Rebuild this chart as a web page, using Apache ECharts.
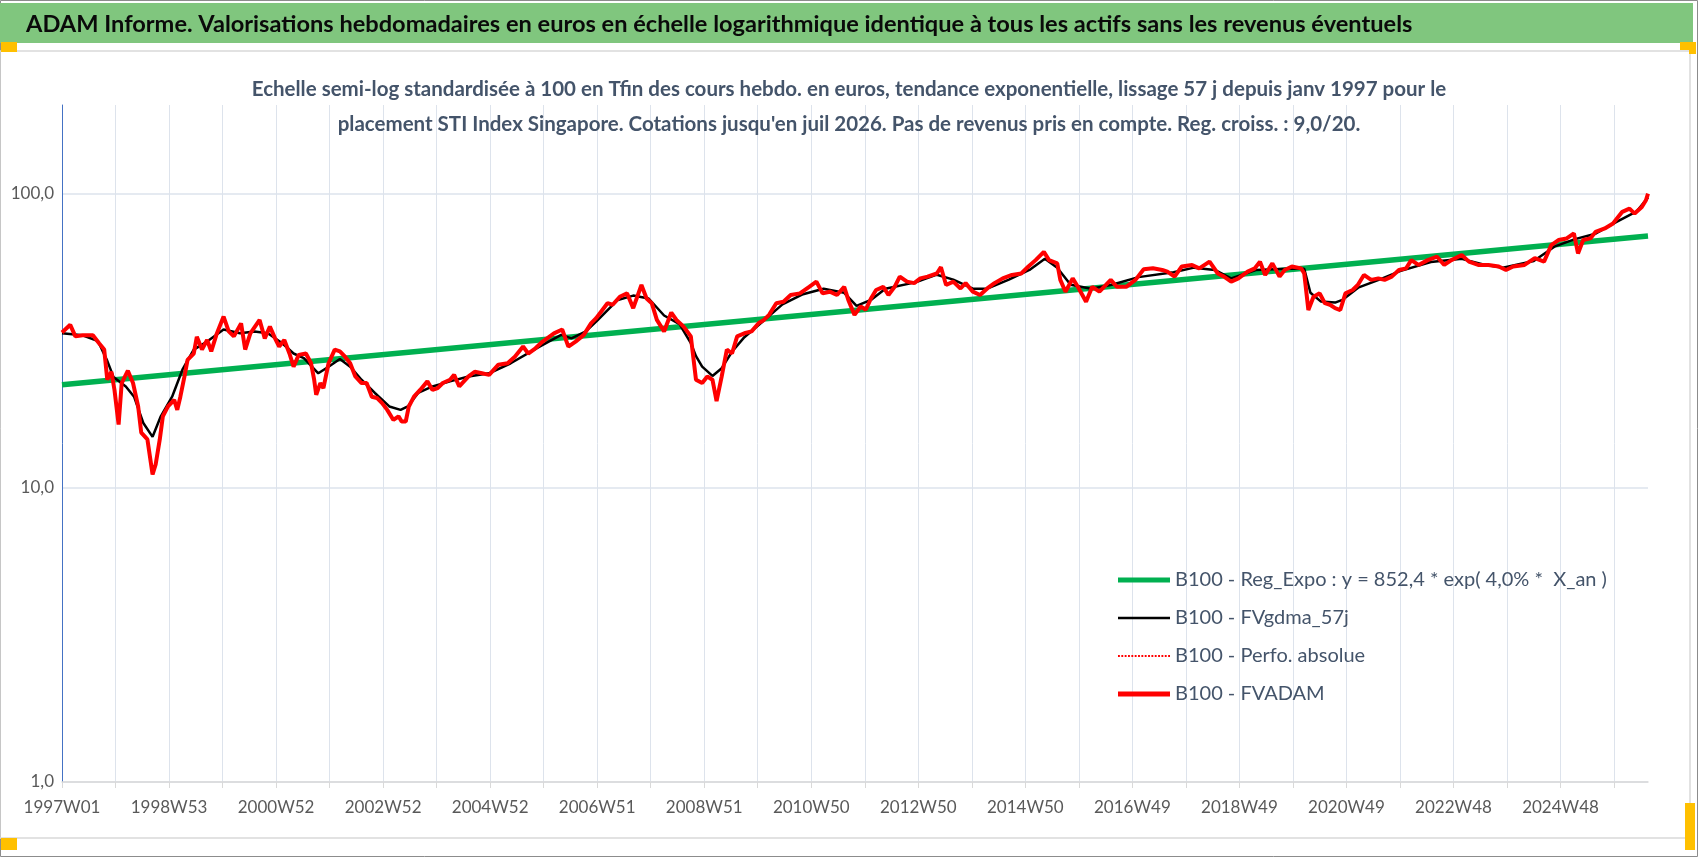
<!DOCTYPE html>
<html>
<head>
<meta charset="utf-8">
<title>ADAM Informe - STI Index Singapore</title>
<script src="https://cdn.jsdelivr.net/npm/echarts@6.0.0/dist/echarts.min.js"></script>
<style>
html,body{margin:0;padding:0;background:#fff;}
#chart{width:1698px;height:857px;}
</style>
</head>
<body>
<div id="chart"></div>
<script>
// weekly categories : ISO weeks from 1997W01 up to juil 2026
let firstMonday = Date.UTC(1996, 11, 30);
let weekCount = 1542;

// series values, [week index, value] (base 100 at the end)
let regExpo = [[0, 22.4], [1541, 71.8]];

let fvgdma = [
  [0,33.5],[20,33.0],[35,31.5],[44,27.0],[50,23.8],[62,22.1],[70,20.4],[79,16.6],[88,14.9],[96,17.5],
  [107,20.4],[117,25.2],[128,29.5],[141,31.4],[157,34.5],[173,33.5],[187,34.0],[200,33.5],[214,31.0],[225,28.6],
  [235,27.6],[249,24.5],[259,25.8],[270,27.4],[280,25.8],[291,23.3],[304,21.0],[318,18.9],[329,18.4],[336,18.9],
  [346,21.0],[360,22.1],[377,23.0],[395,23.9],[415,24.5],[436,26.5],[464,30.2],[485,33.1],[495,32.2],[509,34.0],
  [520,37.0],[540,43.5],[555,45.0],[570,44.0],[585,38.5],[600,36.0],[611,31.0],[616,28.0],[622,25.8],[632,24.0],
  [641,25.5],[651,29.0],[663,32.5],[680,36.5],[700,42.0],[720,45.5],[740,47.5],[760,46.0],[772,41.5],[786,43.5],
  [800,47.5],[830,50.0],[850,53.0],[866,51.0],[885,47.5],[899,47.5],[920,51.0],[940,55.0],[955,60.0],[967,56.0],
  [980,49.0],[1000,47.5],[1020,49.0],[1046,52.0],[1080,54.0],[1100,56.0],[1120,55.0],[1136,51.5],[1160,55.0],[1190,55.5],
  [1207,55.5],[1213,46.0],[1223,43.0],[1237,42.6],[1244,43.5],[1260,48.0],[1280,51.0],[1300,54.5],[1330,58.5],[1360,60.0],
  [1380,57.5],[1400,56.0],[1430,59.0],[1450,66.0],[1470,70.0],[1490,73.0],[1510,80.0],[1530,87.0],[1541,97.0]
];

let fvadam = [
  [0,33.7],[8,35.8],[13,32.7],[20,33.0],[30,33.0],[36,31.0],[41,29.5],[44,23.3],[48,24.8],[51,21.5],
  [55,16.4],[58,22.7],[64,25.0],[69,22.7],[74,18.9],[77,15.4],[83,14.6],[88,11.1],[91,12.0],[95,14.6],
  [98,17.5],[103,18.9],[109,19.9],[112,18.4],[115,20.4],[119,23.9],[122,27.2],[128,28.6],[131,32.6],[136,29.5],
  [141,31.8],[145,29.1],[150,33.1],[157,38.2],[162,34.0],[167,32.7],[174,36.2],[178,29.5],[183,33.5],[192,37.2],
  [197,32.2],[202,35.3],[207,32.2],[211,30.2],[216,31.8],[221,28.6],[225,25.8],[230,28.3],[237,28.6],[242,26.5],
  [245,23.3],[247,20.7],[251,22.7],[254,21.8],[259,26.5],[265,29.5],[270,29.1],[275,27.9],[280,26.5],[285,23.9],
  [291,22.7],[296,22.7],[301,20.4],[306,20.2],[311,19.4],[316,18.4],[322,17.0],[327,17.5],[330,16.8],[334,16.8],
  [337,18.9],[342,20.4],[348,21.5],[355,23.0],[360,21.5],[365,21.8],[370,22.7],[377,23.3],[381,24.2],[386,22.1],
  [395,23.9],[401,24.8],[408,24.5],[415,24.2],[424,26.2],[433,26.5],[440,27.9],[448,30.2],[453,28.6],[460,29.8],
  [467,31.4],[478,33.5],[486,34.5],[492,30.2],[499,31.4],[507,33.1],[514,36.2],[519,37.7],[530,42.4],[535,41.9],
  [542,44.6],[549,45.8],[555,40.8],[563,48.9],[568,44.0],[573,42.4],[578,37.2],[585,34.0],[592,39.4],[597,37.2],
  [604,35.3],[611,32.7],[616,23.3],[622,22.7],[627,23.9],[632,23.3],[636,19.7],[641,23.9],[646,29.5],[651,28.6],
  [656,32.7],[663,33.5],[670,34.0],[677,36.3],[682,37.2],[687,38.7],[694,42.4],[701,42.9],[708,45.2],[717,45.8],
  [726,48.2],[733,50.2],[739,45.8],[746,46.4],[753,45.2],[760,48.2],[764,43.5],[770,38.7],[776,41.3],[781,40.3],
  [786,44.0],[791,47.0],[798,48.2],[803,45.2],[809,48.2],[814,52.2],[821,50.2],[828,49.6],[834,51.5],[841,52.2],
  [850,53.5],[854,56.2],[859,48.9],[866,50.2],[873,47.6],[878,49.6],[885,46.4],[892,45.2],[899,47.6],[906,49.6],
  [914,51.5],[923,52.9],[932,53.5],[939,56.5],[946,59.4],[954,63.4],[959,59.4],[967,57.9],[970,50.9],[975,46.4],
  [982,51.5],[987,48.2],[995,42.9],[1001,48.2],[1008,46.4],[1019,50.9],[1025,48.2],[1034,48.2],[1043,50.9],[1051,55.3],
  [1060,55.7],[1069,55.0],[1074,54.3],[1081,52.2],[1088,56.5],[1098,57.2],[1105,55.7],[1115,58.7],[1123,53.5],[1129,52.2],
  [1136,50.2],[1143,51.5],[1152,54.3],[1159,55.7],[1164,58.7],[1169,52.9],[1176,57.9],[1183,52.2],[1188,55.0],[1195,56.5],
  [1204,55.7],[1207,53.5],[1211,40.2],[1216,44.6],[1222,45.8],[1227,42.4],[1232,41.9],[1237,40.8],[1242,40.2],[1247,45.8],
  [1254,47.0],[1259,48.9],[1265,52.9],[1272,50.9],[1279,51.5],[1285,50.9],[1292,52.2],[1299,55.0],[1306,55.7],[1311,59.4],
  [1318,57.2],[1327,59.4],[1336,61.0],[1343,57.2],[1350,59.4],[1360,61.8],[1367,58.7],[1376,57.2],[1386,57.2],[1396,56.5],
  [1403,55.0],[1410,56.5],[1421,57.2],[1431,60.3],[1440,58.7],[1447,66.8],[1454,69.5],[1462,70.4],[1469,73.2],[1473,62.6],
  [1478,69.5],[1485,70.4],[1490,74.1],[1499,76.1],[1507,79.1],[1516,86.7],[1523,88.9],[1528,85.5],[1535,90.0],[1539,94.9],
  [1541,100]
];

let yTicks = [1, 10, 100];
let legendNames = [
  'B100 - Reg_Expo : y = 852,4 * exp( 4,0% *  X_an )',
  'B100 - FVgdma_57j',
  'B100 - Perfo. absolue',
  'B100 - FVADAM'
];
let titleText = 'ADAM Informe. Valorisations hebdomadaires en euros en échelle logarithmique identique à tous les actifs sans les revenus éventuels';
let subLine1 = 'Echelle semi-log standardisée à 100 en Tfin des cours hebdo. en euros, tendance exponentielle, lissage 57 j depuis janv 1997 pour le';
let subLine2 = "placement STI Index Singapore. Cotations jusqu'en juil 2026. Pas de revenus pris en compte. Reg. croiss. : 9,0/20.";

let isoWeekLabel = function (i) {
  let d = new Date(firstMonday + i * 7 * 86400000);
  let thu = new Date(d.getTime() + 3 * 86400000);
  let y = thu.getUTCFullYear();
  let doy = Math.floor((thu.getTime() - Date.UTC(y, 0, 1)) / 86400000);
  let w = Math.floor(doy / 7) + 1;
  return y + 'W' + (w < 10 ? '0' + w : w);
};
let weeks = [];
for (let i = 0; i < weekCount; i++) {
  weeks.push(isoWeekLabel(i));
}

// legend keys drawn as plain strokes (52x6 box), no marker
let box = 'path://M0,0M52,6';
let dots = '';
for (let x = 0; x < 52; x += 3.4) {
  dots += 'M' + x + ',2.1h1.9v1.8h-1.9z';
}
let legendIcons = [
  box + 'M0,0.4H52V5.6H0Z',
  box + 'M0,1.7H52V4.3H0Z',
  box + dots,
  box + 'M0,0.6H52V5.4H0Z'
];

let font = 'Lato, "Open Sans", sans-serif';
let myChart = echarts.init(document.getElementById('chart'));

let option = {
  animation: false,
  backgroundColor: '#fff',
  textStyle: {fontFamily: font},
  grid: {left: 62, right: 50, top: 105, bottom: 75, outerBoundsMode: 'none', containLabel: false},
  legend: {
    orient: 'vertical',
    left: 1113,
    top: 565,
    itemWidth: 52,
    itemHeight: 6,
    itemGap: 18,
    selectedMode: false,
    itemStyle: {borderWidth: 0},
    textStyle: {fontFamily: font, fontSize: 20, color: '#44546A'},
    data: legendNames.map(function (n, i) { return {name: n, icon: legendIcons[i]}; })
  },
  xAxis: {
    type: 'category',
    data: weeks,
    boundaryGap: false,
    axisLine: {lineStyle: {color: '#D9D9D9', width: 1.5}},
    axisTick: {interval: 51, length: 6, lineStyle: {color: '#D9D9D9'}},
    axisLabel: {interval: 103, color: '#595959', fontSize: 17, margin: 17, fontFamily: font},
    splitLine: {show: true, interval: 51, lineStyle: {color: '#DDE3EC', width: 1}}
  },
  yAxis: {
    type: 'log',
    logBase: 10,
    min: 1,
    max: 200,
    axisLine: {show: true, lineStyle: {color: '#4472C4', width: 1}},
    axisTick: {show: false},
    axisLabel: {
      color: '#595959', fontSize: 17, margin: 8, fontFamily: font,
      formatter: function (v) {
        return yTicks.indexOf(Math.round(v * 1000) / 1000) > -1 ? v.toFixed(1).replace('.', ',') : '';
      }
    },
    splitLine: {show: true, showMaxLine: false, lineStyle: {color: '#DDE3EC', width: 1.5}}
  },
  graphic: [
    {type: 'rect', shape: {x: 0.5, y: 0.5, width: 1697, height: 856}, style: {fill: 'none', stroke: '#8C8C8C', lineWidth: 1}, z: 0},
    {type: 'rect', shape: {x: 0, y: 3, width: 1693, height: 40}, style: {fill: '#80C67E'}, z: 1},
    {type: 'text', x: 26, y: 24, style: {text: titleText, fontFamily: font, fontSize: 23.6, fontWeight: 'bold', fill: '#0A0A0A', verticalAlign: 'middle'}, z: 2},
    {type: 'rect', shape: {x: 0, y: 51, width: 1690, height: 787}, style: {fill: 'none', stroke: '#D9D9D9', lineWidth: 1.5}, z: 1},
    {type: 'rect', shape: {x: 1, y: 42, width: 16, height: 10}, style: {fill: '#FFC000'}, z: 3},
    {type: 'rect', shape: {x: 1680, y: 42, width: 16, height: 8}, style: {fill: '#FFC000'}, z: 3},
    {type: 'rect', shape: {x: 1689, y: 42, width: 7, height: 12}, style: {fill: '#FFC000'}, z: 3},
    {type: 'rect', shape: {x: 1, y: 838, width: 16, height: 12}, style: {fill: '#FFC000'}, z: 3},
    {type: 'rect', shape: {x: 1685, y: 803, width: 10, height: 47}, style: {fill: '#FFC000'}, z: 3},
    {type: 'text', x: 849, y: 89, style: {text: subLine1, fontFamily: font, fontSize: 20.5, fontWeight: 'bold', fill: '#44546A', align: 'center', verticalAlign: 'middle'}, z: 5},
    {type: 'text', x: 849, y: 124, style: {text: subLine2, fontFamily: font, fontSize: 20.5, fontWeight: 'bold', fill: '#44546A', align: 'center', verticalAlign: 'middle'}, z: 5}
  ],
  series: [
    {
      name: legendNames[0], type: 'line', data: regExpo, symbol: 'none', z: 2,
      lineStyle: {color: '#00B050', width: 5.5}, itemStyle: {color: '#00B050'}
    },
    {
      name: legendNames[1], type: 'line', data: fvgdma, symbol: 'none', z: 3,
      lineStyle: {color: '#000', width: 2.5}, itemStyle: {color: '#000'}
    },
    {
      name: legendNames[2], type: 'line', data: fvadam, symbol: 'none', z: 4,
      lineStyle: {color: '#FF0000', width: 1.5, type: 'dotted'}, itemStyle: {color: '#FF0000'}
    },
    {
      name: legendNames[3], type: 'line', data: fvadam, symbol: 'none', z: 5,
      lineStyle: {color: '#FF0000', width: 4}, itemStyle: {color: '#FF0000'}
    }
  ]
};
myChart.setOption(option);
</script>
</body>
</html>
